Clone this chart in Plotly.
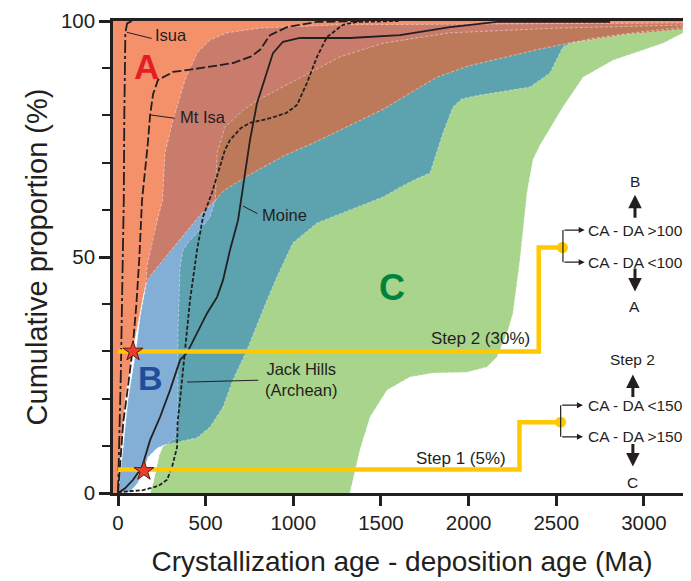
import plotly.graph_objects as go

# ---------------- envelope boundaries (Ma, cumulative %) ----------------
a_right_x = [0, 8, 22, 40, 82, 115, 142, 160, 183, 325, 468, 555, 600, 753, 950, 1135, 1330, 1512, 1700, 1820, 2000, 2219, 2400, 2596, 2900, 3300]
a_right_y = [0, 5, 10, 19.7, 30, 36, 41.5, 44.3, 46, 52.5, 58.9, 62, 64, 67.5, 71.5, 74.5, 78, 81.3, 85.5, 88.1, 90.5, 92.4, 94, 95.5, 97.2, 98.6]

b_left_x = [0, 25, 57, 103, 126, 148, 160, 165, 200, 228, 254, 262, 268, 314, 382, 451, 525, 622, 810, 1266, 3300]
b_left_y = [0, 8, 19.7, 30.3, 37.3, 42, 44.3, 47.9, 54, 58.5, 62, 67, 72, 79, 87.5, 93.2, 96, 97.5, 98.5, 99.2, 99.6]

b_right_x = [0, 68, 110, 143, 171, 222, 268, 314, 451, 525, 599, 656, 736, 850, 907, 998, 1135, 1323, 1512, 1609, 1700, 1780, 1854, 1911, 1960, 2065, 2350, 2464, 2538, 2578, 2700, 3000, 3300]
b_right_y = [0, 0.2, 2, 4.2, 7.6, 9.5, 10.2, 10.6, 11.7, 14, 18.2, 24, 30.3, 40.9, 45.8, 53, 57.2, 60, 62.7, 64.8, 66.5, 67.8, 76.3, 81.8, 83.5, 84.3, 86, 89, 94.5, 95.3, 96.3, 97.8, 99]

c_left_x = [183, 200, 218, 235, 255, 290, 325, 337, 342, 342, 354, 371, 410, 451, 525, 555, 560, 565, 610, 713, 800, 907, 1095, 1266, 1512, 1894, 2500, 3300]
c_left_y = [0, 2, 5, 8, 9.8, 10.6, 11.5, 13, 20, 34, 47.9, 51.5, 53.5, 55, 58.5, 62, 66, 72, 77.5, 81.1, 83.3, 85.4, 89, 92.4, 95.3, 97.5, 98.5, 99.2]

c_right_x = [1323, 1380, 1438, 1535, 1666, 1797, 1991, 2105, 2162, 2179, 2225, 2253, 2293, 2333, 2367, 2407, 2538, 2653, 2824, 3109, 3300]
c_right_y = [0, 9.1, 16.1, 21.8, 24.6, 25.4, 25.6, 26.7, 28.8, 30.3, 34.5, 38.1, 49.4, 63.6, 70.6, 73.7, 81.8, 88.1, 91.7, 95.3, 98.9]

# ---------------- example cumulative curves ----------------
isua_x = [0, 8, 16, 25, 33, 36, 38, 42, 52, 80]
isua_y = [0, 10, 25, 45, 62, 80, 93, 97.5, 99.5, 100]

mtisa_x = [0, 10, 30, 55, 82, 105, 122, 137, 155, 170, 183, 200, 228, 314, 468, 656, 760, 810, 867, 964, 1135, 1400]
mtisa_y = [0, 5, 15, 22, 30, 40, 50, 62, 68, 74, 80, 84.5, 87.5, 89.2, 90, 91.1, 92.5, 93.9, 97, 98.7, 99.8, 100]

jack_x = [0, 11, 143, 230, 280, 308, 337, 340, 360, 382, 411, 451, 485, 536, 610, 639, 700, 753, 867, 960, 1021, 1078, 1135, 1192, 1283, 1363, 1600]
jack_y = [0, 0.2, 0.6, 1.5, 2.8, 5.5, 9.7, 15, 22, 30.3, 40.9, 51.5, 58.5, 63.6, 72.7, 74.8, 77.3, 78.4, 79.4, 80.5, 82.2, 86.9, 92.4, 96.6, 99.2, 99.8, 100]

moine_x = [0, 40, 86, 137, 183, 240, 297, 354, 394, 451, 508, 565, 599, 639, 685, 713, 736, 753, 793, 850, 884, 941, 1038, 1323, 1609, 1894, 2162, 2807]
moine_y = [0, 1, 2.8, 5.5, 11.2, 16.1, 21.8, 28.2, 29.7, 33.9, 38.1, 41.5, 45.1, 51.5, 57.8, 64.8, 70.6, 74.8, 82.6, 89, 93.2, 95.6, 96.4, 96.4, 97, 98.7, 99.8, 99.8]

# ---------------- classification steps ----------------
step1_x = [0, 2290, 2290, 2525]
step1_y = [5, 5, 15, 15]
step2_x = [0, 2400, 2400, 2535]
step2_y = [30, 30, 52, 52]
star_x = [148, 86]
star_y = [4.7, 30]

# ---------------- colours ----------------
COL_A = "#F4916B"
COL_B = "#83AFD6"
COL_C = "#A9D48B"
COL_AB = "#C97B6C"
COL_ABC = "#BD7A5A"
COL_BC = "#5CA3AF"
INK = "#231F20"
YEL = "#FFC800"

def pts(xs, ys, ymin=None):
    return [(x, y) for x, y in zip(xs, ys) if ymin is None or y >= ymin]

def poly(left, right):
    xs = [p[0] for p in left] + [p[0] for p in reversed(right)]
    ys = [p[1] for p in left] + [p[1] for p in reversed(right)]
    return xs + [xs[0]], ys + [ys[0]]

fig = go.Figure()

def add_fill(left, right, color):
    xs, ys = poly(left, right)
    fig.add_trace(go.Scatter(x=xs, y=ys, mode="lines", fill="toself", fillcolor=color,
                             line=dict(width=0, color=color), hoverinfo="skip"))

A_r = pts(a_right_x, a_right_y)
B_l = pts(b_left_x, b_left_y)
B_r = pts(b_right_x, b_right_y)
C_l = pts(c_left_x, c_left_y)
C_r = pts(c_right_x, c_right_y)

add_fill(C_l, C_r, COL_C)
add_fill(B_l, B_r, COL_B)
add_fill(pts(c_left_x, c_left_y, 10.2), pts(b_right_x, b_right_y, 10.2), COL_BC)
add_fill([(-40, 0), (-40, 100), (3300, 100)], A_r, COL_A)
add_fill(pts(b_left_x, b_left_y, 44.3), pts(a_right_x, a_right_y, 44.3), COL_AB)
add_fill(pts(c_left_x, c_left_y, 62), pts(a_right_x, a_right_y, 62), COL_ABC)

for xs, ys in [(a_right_x, a_right_y), (b_left_x, b_left_y), (b_right_x, b_right_y),
               (c_left_x, c_left_y), (c_right_x, c_right_y)]:
    fig.add_trace(go.Scatter(x=xs, y=ys, mode="lines", hoverinfo="skip",
                             line=dict(color="rgba(255,255,255,0.55)", width=0.8, dash="3px,2px")))

curve_w = 1.8
fig.add_trace(go.Scatter(x=isua_x, y=isua_y, mode="lines", line=dict(color=INK, width=curve_w, dash="13px,3px,3px,3px")))
fig.add_trace(go.Scatter(x=mtisa_x, y=mtisa_y, mode="lines", line=dict(color=INK, width=curve_w, dash="9px,3px")))
fig.add_trace(go.Scatter(x=jack_x, y=jack_y, mode="lines", line=dict(color=INK, width=curve_w, dash="4px,2px")))
fig.add_trace(go.Scatter(x=moine_x, y=moine_y, mode="lines", line=dict(color=INK, width=curve_w)))

fig.add_trace(go.Scatter(x=step1_x, y=step1_y, mode="lines", line=dict(color=YEL, width=4.5)))
fig.add_trace(go.Scatter(x=step2_x, y=step2_y, mode="lines", line=dict(color=YEL, width=4.5)))
fig.add_trace(go.Scatter(x=[step1_x[-1], step2_x[-1]], y=[step1_y[-1], step2_y[-1]], mode="markers",
                         marker=dict(color=YEL, size=11)))
fig.add_trace(go.Scatter(x=star_x, y=star_y, mode="markers",
                         marker=dict(symbol="star", color="#E8402A", size=15, line=dict(color="#5A1A10", width=1))))

ann = []
shapes = []
FONT = "Liberation Sans, Arial, Helvetica, sans-serif"

def text(x, y, s, size=16, color=INK, xanchor="center", bold=False):
    ann.append(dict(x=x, y=y, xref="x", yref="y", text=("<b>%s</b>" % s) if bold else s,
                    showarrow=False, xanchor=xanchor, yanchor="middle",
                    font=dict(family=FONT, size=size, color=color)))

def seg(x0, y0, x1, y1, w=1.2):
    shapes.append(dict(type="line", xref="x", yref="y", x0=x0, y0=y0, x1=x1, y1=y1,
                       line=dict(color=INK, width=w)))

def arrow(xt, yt, xh, yh, w=1.2, head=2, size=1.0):
    ann.append(dict(x=xh, y=yh, ax=xt, ay=yt, xref="x", yref="y", axref="x", ayref="y",
                    text="", showarrow=True, arrowhead=head, arrowsize=size, arrowwidth=w,
                    arrowcolor=INK))

text(165, 90.3, "A", size=35, color="#E31E26", bold=True)
text(183, 24.4, "B", size=34, color="#1F4E9C", bold=True)
text(1563, 43.6, "C", size=36, color="#00843D", bold=True)

text(200, 97.0, "Isua", size=16.5, xanchor="left")
seg(51, 97.6, 192, 96.3, w=1)
text(342, 79.7, "Mt Isa", size=16.5, xanchor="left")
seg(183, 80.1, 324, 79.4, w=1)
text(808, 58.9, "Moine", size=16.5, xanchor="left")
seg(713, 60.8, 795, 59.2, w=1)
text(1045, 24.0, "Jack Hills<br>(Archean)", size=16.5)
seg(394, 23.5, 800, 23.9, w=1)

text(2362, 32.8, "Step 2 (30%)", size=17, xanchor="right")
text(2225, 7.4, "Step 1 (5%)", size=17, xanchor="right")

CA = 15.5
AS = 0.9
bx2 = 2538
seg(bx2, 48.9, bx2, 55.7)
arrow(bx2, 55.7, 2662, 55.7)
arrow(bx2, 48.9, 2662, 48.9)
text(2672, 55.7, "CA - DA >100", size=CA, xanchor="left")
text(2672, 48.9, "CA - DA <100", size=CA, xanchor="left")
arrow(2949, 58.0, 2949, 63.2, w=3, head=2, size=AS)
text(2949, 66.0, "B", size=CA)
arrow(2949, 47.9, 2949, 42.7, w=3, head=2, size=AS)
text(2949, 39.6, "A", size=CA)

bx1 = 2525
seg(bx1, 11.9, bx1, 18.6)
arrow(bx1, 18.6, 2652, 18.6)
arrow(bx1, 11.9, 2652, 11.9)
text(2672, 18.6, "CA - DA <150", size=CA, xanchor="left")
text(2672, 11.9, "CA - DA >150", size=CA, xanchor="left")
arrow(2937, 20.0, 2937, 25.1, w=3, head=2, size=AS)
text(2937, 28.3, "Step 2", size=CA)
arrow(2937, 10.7, 2937, 5.6, w=3, head=2, size=AS)
text(2937, 2.2, "C", size=CA)

fig.update_layout(
    width=691, height=581,
    margin=dict(l=105, r=8, t=13, b=96),
    paper_bgcolor="white", plot_bgcolor="white",
    showlegend=False,
    annotations=ann, shapes=shapes,
    font=dict(family=FONT, color=INK),
    xaxis=dict(range=[-28.5, 3268.5], tickvals=[0, 500, 1000, 1500, 2000, 2500, 3000],
               ticks="outside", ticklen=10, tickwidth=2.5, tickcolor=INK,
               showline=True, linewidth=2.5, linecolor=INK, mirror=True, automargin=False,
               showgrid=False, zeroline=False, tickfont=dict(size=20.5, color=INK),
               title=dict(text="Crystallization age - deposition age (Ma)",
                          font=dict(size=28, color=INK), standoff=19)),
    yaxis=dict(range=[0, 100], tickvals=[0, 50, 100], automargin=False,
               ticks="outside", ticklen=11, tickwidth=2.5, tickcolor=INK,
               minor=dict(dtick=10, ticks="outside", ticklen=8, tickwidth=2, tickcolor=INK),
               showline=True, linewidth=2.5, linecolor=INK,
               showgrid=False, zeroline=False, tickfont=dict(size=20.5, color=INK),
               title=dict(text="Cumulative proportion (%)", font=dict(size=29, color=INK), standoff=5)),
)

fig.write_html("out.html")
